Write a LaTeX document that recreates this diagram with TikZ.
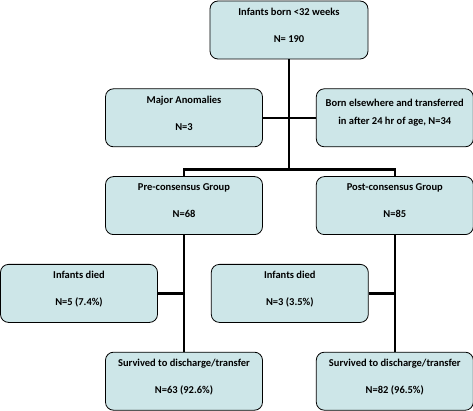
\documentclass[tikz,border=0pt]{standalone}
\usepackage{fontspec}
\setmainfont{Carlito}
\usetikzlibrary{positioning}
\definecolor{boxfill}{RGB}{205,230,232}
\tikzset{
    group/.style = {rectangle, rounded corners=8pt, minimum width=157pt, minimum height=58pt, text centered, align=center, text depth=9.5pt, draw=black, line width=0.8pt, fill=boxfill, font=\fontsize{10.5}{13}\selectfont\bfseries},
    link/.style = {line width=2.5pt}
}
\begin{document}
\begin{tikzpicture}[node distance=29pt and 53pt]
\useasboundingbox (-289pt,30pt) rectangle (184pt,-381pt);

\node (all) [group, minimum width=158pt] {Infants born <32 weeks\\[14pt]N= 190};
\node (major) [group, below=of all, xshift=-105pt] {Major Anomalies\\[14pt]N=3};
\node (born) [group, right=of major, text depth=12.5pt] {Born elsewhere and transferred\\[5pt]in after 24 hr of age, N=34};
\node (pre) [group, below=of major] {Pre-consensus Group\\[14pt]N=68};
\node (post) [group, below=of born] {Post-consensus Group\\[14pt]N=85};
\node (died1) [group, below=of pre, xshift=-105pt] {Infants died\\[14pt]N=5 (7.4\%)};
\node (died2) [group, right=of died1] {Infants died\\[14pt]N=3 (3.5\%)};
\node (surv1) [group, below=of died1, xshift=105pt] {Survived to discharge/transfer\\[14pt]N=63 (92.6\%)};
\node (surv2) [group, below=of died2, xshift=105pt] {Survived to discharge/transfer\\[14pt]N=82 (96.5\%)};

% Exclusions
\draw [link] (all.south) -- ++(0,-110pt) coordinate (split);
\draw [link] (major.east) -- (born.west);
% Groups
\draw [link] (pre.north) |- (split) -| (post.north);
% Outcomes
\draw [link] (pre.south) -- (surv1.north);
\draw [link] (died1.east) -- (died1.east -| pre.south);
\draw [link] (post.south) -- (surv2.north);
\draw [link] (died2.east) -- (died2.east -| post.south);

\end{tikzpicture}
\end{document}
